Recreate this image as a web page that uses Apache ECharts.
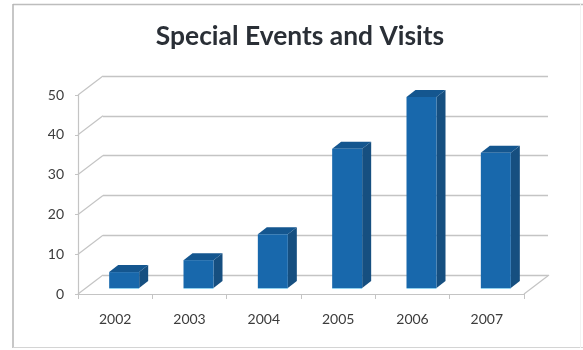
<!DOCTYPE html>
<html><head><meta charset="utf-8">
<style>html,body{margin:0;padding:0;background:#fff}#c{width:583px;height:350px}</style>
<script src="https://cdn.jsdelivr.net/npm/echarts@6/dist/echarts.min.js"></script>
</head><body><div id="c"></div>
<script>
const categories = ['2002','2003','2004','2005','2006','2007'];
const visits = [4, 7, 13.5, 35, 48, 34];
const yTicks = [0,10,20,30,40,50];
const titleText = 'Special Events and Visits';

const depthX = 25, depthY = 19;      // full floor depth of the 3D box
const barLift = 6, barShift = 9, barDepthX = 9, barDepthY = 7, barW = 30;

const chart = echarts.init(document.getElementById('c'));
const gridLine = '#c4c4c4';

function slantItem(params, api){
  const p = api.coord([0, api.value(0)]);
  const x0 = p[0] - api.size([1,0])[0]/2;
  return {type:'line', shape:{x1:x0,y1:p[1],x2:x0+depthX,y2:p[1]-depthY},
    style:{stroke:gridLine,lineWidth:1.2}, silent:true};
}
function floorRight(params, api){
  const p = api.coord([categories.length-1, 0]);
  const x0 = p[0] + api.size([1,0])[0]/2;
  return {type:'line', shape:{x1:x0,y1:p[1],x2:x0+depthX,y2:p[1]-depthY},
    style:{stroke:gridLine,lineWidth:1.2}, silent:true};
}
function bar3d(params, api){
  const top = api.coord([api.value(0), api.value(1)]);
  const base = api.coord([api.value(0), 0]);
  const xl = top[0] + barShift - barW/2, xr = xl + barW;
  const yb = base[1] - barLift, yt = top[1] - barLift;
  return {type:'group', children:[
    {type:'polygon', shape:{points:[[xr,yt],[xr+barDepthX,yt-barDepthY],[xr+barDepthX,yb-barDepthY],[xr,yb]]},
      style:{fill:'#164f80'}},
    {type:'polygon', shape:{points:[[xl,yt],[xl+barDepthX,yt-barDepthY],[xr+barDepthX,yt-barDepthY],[xr,yt]]},
      style:{fill:'#14568f'}},
    {type:'rect', shape:{x:xl,y:yt,width:barW,height:yb-yt}, style:{fill:'#1868ac'}},
    {type:'line', shape:{x1:xl,y1:yb+0.5,x2:xr,y2:yb+0.5}, style:{stroke:'#8fd0ee',lineWidth:1}}
  ]};
}
function frameLine(x1,y1,x2,y2,stroke,w){
  return {type:'line',shape:{x1,y1,x2,y2},style:{stroke,lineWidth:w},silent:true};
}
chart.setOption({
  animation:false,
  backgroundColor:'#fff',
  title:{text:titleText,left:295,top:18,textAlign:'center',
    textStyle:{fontFamily:'Lato',fontWeight:'bold',fontSize:26.4,color:'#2a2f36'}},
  graphic:[
    frameLine(13,4.5,583,4.5,'#bdbdbd',1.5),
    frameLine(13,4,13,348,'#b4b4b4',1.5),
    frameLine(13,347.5,583,347.5,'#d4d4d4',1),
    frameLine(580.5,4,580.5,348,'#f2f2f2',1)
  ],
  grid:[
    {left:78,right:59,top:95,bottom:56},
    {left:103,right:35,top:76,bottom:75}
  ],
  xAxis:[
    {type:'category',gridIndex:0,data:categories,
     axisLine:{lineStyle:{color:gridLine,width:1.2}},
     axisTick:{show:true,length:5,lineStyle:{color:gridLine}},
     axisLabel:{color:'#3c3c3c',fontFamily:'Lato',fontSize:14,margin:18},
     splitLine:{show:false}},
    {type:'category',gridIndex:1,data:categories,show:false}
  ],
  yAxis:[
    {type:'value',gridIndex:0,min:0,max:50,interval:10,
     axisLine:{show:true,lineStyle:{color:gridLine,width:1.2}},
     axisTick:{show:true,length:3,lineStyle:{color:gridLine}},
     axisLabel:{color:'#3c3c3c',fontFamily:'Lato',fontSize:14,margin:14},
     splitLine:{show:false}},
    {type:'value',gridIndex:1,min:0,max:50,interval:10,
     axisLine:{show:false},axisTick:{show:false},axisLabel:{show:false},
     splitLine:{show:true,lineStyle:{color:gridLine,width:1.4}}}
  ],
  series:[
    {type:'custom',xAxisIndex:0,yAxisIndex:0,renderItem:slantItem,
     encode:{x:-1,y:0},data:yTicks.map(v=>[v]),z:1},
    {type:'custom',xAxisIndex:0,yAxisIndex:0,renderItem:floorRight,
     data:[[0]],z:1},
    {type:'custom',xAxisIndex:0,yAxisIndex:0,renderItem:bar3d,
     encode:{x:0,y:1},data:visits.map((v,i)=>[i,v]),z:5}
  ]
});
</script></body></html>
